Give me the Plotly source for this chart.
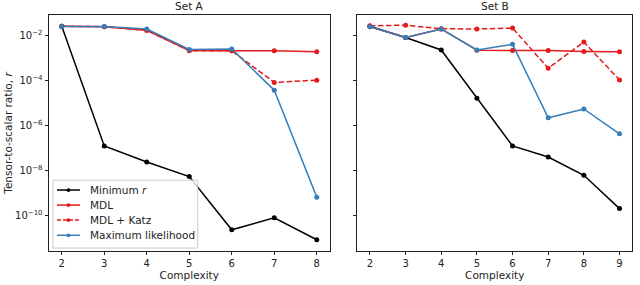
import plotly.graph_objects as go
from plotly.subplots import make_subplots

# ---- data (log10 of r) ----
cx_A = [2, 3, 4, 5, 6, 7, 8]
cx_B = [2, 3, 4, 5, 6, 7, 8, 9]

A_min = [-1.59, -6.90, -7.61, -8.26, -10.62, -10.09, -11.06]
A_mdl = [-1.59, -1.61, -1.77, -2.67, -2.68, -2.68, -2.72]
A_katz = [-1.59, -1.61, -1.77, -2.67, -2.68, -4.08, -3.98]
A_ml = [-1.60, -1.60, -1.71, -2.62, -2.60, -4.43, -9.17]

B_min = [-1.59, -2.09, -2.64, -4.78, -6.90, -7.39, -8.20, -9.68]
B_mdl = [-1.61, -2.09, -1.71, -2.65, -2.67, -2.67, -2.71, -2.72]
B_katz = [-1.57, -1.54, -1.70, -1.71, -1.67, -3.45, -2.29, -3.97]
B_ml = [-1.61, -2.09, -1.71, -2.64, -2.39, -5.65, -5.26, -6.36]

names = ["Minimum <i>r</i>", "MDL", "MDL + Katz", "Maximum likelihood"]
colors = ["#000000", "#e41a1c", "#e41a1c", "#377eb8"]
dashes = ["solid", "solid", "5.5px,2.5px", "solid"]
tick_exp = [-2, -4, -6, -8, -10]
tick_text = ["10<sup>\u2212%d</sup>" % (-e) for e in tick_exp]

FONT = "DejaVu Sans"
TXT = "#222"
W, H = 640, 285
ml, mr, mt, mb = 49, 7, 15, 30
pw = W - ml - mr
ph = H - mt - mb
left_w = 330 - ml  # left panel width in px

fig = make_subplots(rows=1, cols=2, shared_yaxes=True, horizontal_spacing=0.0)

for col, (xs, series) in enumerate([(cx_A, [A_min, A_mdl, A_katz, A_ml]),
                                    (cx_B, [B_min, B_mdl, B_katz, B_ml])], start=1):
    for i, ys in enumerate(series):
        fig.add_trace(go.Scatter(
            x=xs, y=[10 ** v for v in ys], mode="lines+markers",
            name=names[i], showlegend=False,
            line=dict(color=colors[i], width=1.5, dash=dashes[i]),
            marker=dict(color=colors[i], size=5),
        ), row=1, col=col)

axis_common = dict(showgrid=False, zeroline=False, showline=True, mirror=True,
                   linecolor=TXT, linewidth=0.9, ticks="outside", ticklen=3.5,
                   tickcolor=TXT, tickwidth=0.8,
                   tickfont=dict(family=FONT, size=10, color=TXT))

fig.update_xaxes(**axis_common)
fig.update_yaxes(**axis_common)

title_font = dict(family=FONT, size=10.5, color=TXT)
fig.update_layout(
    xaxis=dict(domain=[0, left_w / pw], range=[1.7, 8.3], tickvals=cx_A,
               title=dict(text="Complexity", standoff=1, font=title_font)),
    xaxis2=dict(domain=[(358 - ml) / pw, 1], range=[1.65, 9.35], tickvals=cx_B,
                title=dict(text="Complexity", standoff=1, font=title_font)),
    yaxis=dict(type="log", range=[-11.56, -1.09], tickvals=[10 ** e for e in tick_exp],
               ticktext=tick_text,
               title=dict(text="Tensor-to-scalar ratio, <i>r</i>", standoff=0, font=title_font)),
    yaxis2=dict(type="log", range=[-11.56, -1.09], tickvals=[10 ** e for e in tick_exp],
                showticklabels=False),
    width=W, height=H,
    margin=dict(l=ml, r=mr, t=mt, b=mb),
    paper_bgcolor="white", plot_bgcolor="white",
    font=dict(family=FONT, size=10, color=TXT),
    showlegend=False,
)

# ---- legend box (drawn in left panel domain coordinates) ----
def dx(px):
    return (px - ml) / left_w

def dy(py):
    return ((mt + ph) - py) / ph

shapes = [dict(type="rect", xref="x domain", yref="y domain",
               x0=dx(53), x1=dx(198), y0=dy(252), y1=dy(183),
               fillcolor="rgba(255,255,255,0.8)", line=dict(color="#cccccc", width=1),
               layer="above")]
annotations = []
rows_y = [193.0, 208.3, 223.6, 239.0]
for i, ry in enumerate(rows_y):
    shapes.append(dict(type="line", xref="x domain", yref="y domain",
                       x0=dx(57), x1=dx(80), y0=dy(ry), y1=dy(ry),
                       line=dict(color=colors[i], width=1.5,
                                 dash=("4px,2px" if dashes[i] != "solid" else "solid")),
                       layer="above"))
    shapes.append(dict(type="circle", xref="x domain", yref="y domain",
                       x0=dx(66.6), x1=dx(70.4), y0=dy(ry + 1.9), y1=dy(ry - 1.9),
                       fillcolor=colors[i], line=dict(color=colors[i], width=0),
                       layer="above"))
    annotations.append(dict(text=names[i], xref="x domain", yref="y domain",
                            x=dx(88), y=dy(ry), xanchor="left", yanchor="middle",
                            showarrow=False, font=dict(family=FONT, size=10.5, color=TXT)))

annotations += [
    dict(text="Set A", x=0.5, y=1, xref="x domain", yref="y domain",
         xanchor="center", yanchor="bottom", showarrow=False, yshift=1, font=title_font),
    dict(text="Set B", x=0.5, y=1, xref="x2 domain", yref="y2 domain",
         xanchor="center", yanchor="bottom", showarrow=False, yshift=1, font=title_font),
]
fig.update_layout(shapes=shapes, annotations=annotations)

fig.write_html("out.html", config={"displayModeBar": False},
               post_script="document.body.style.margin='0';document.body.style.padding='0';")
